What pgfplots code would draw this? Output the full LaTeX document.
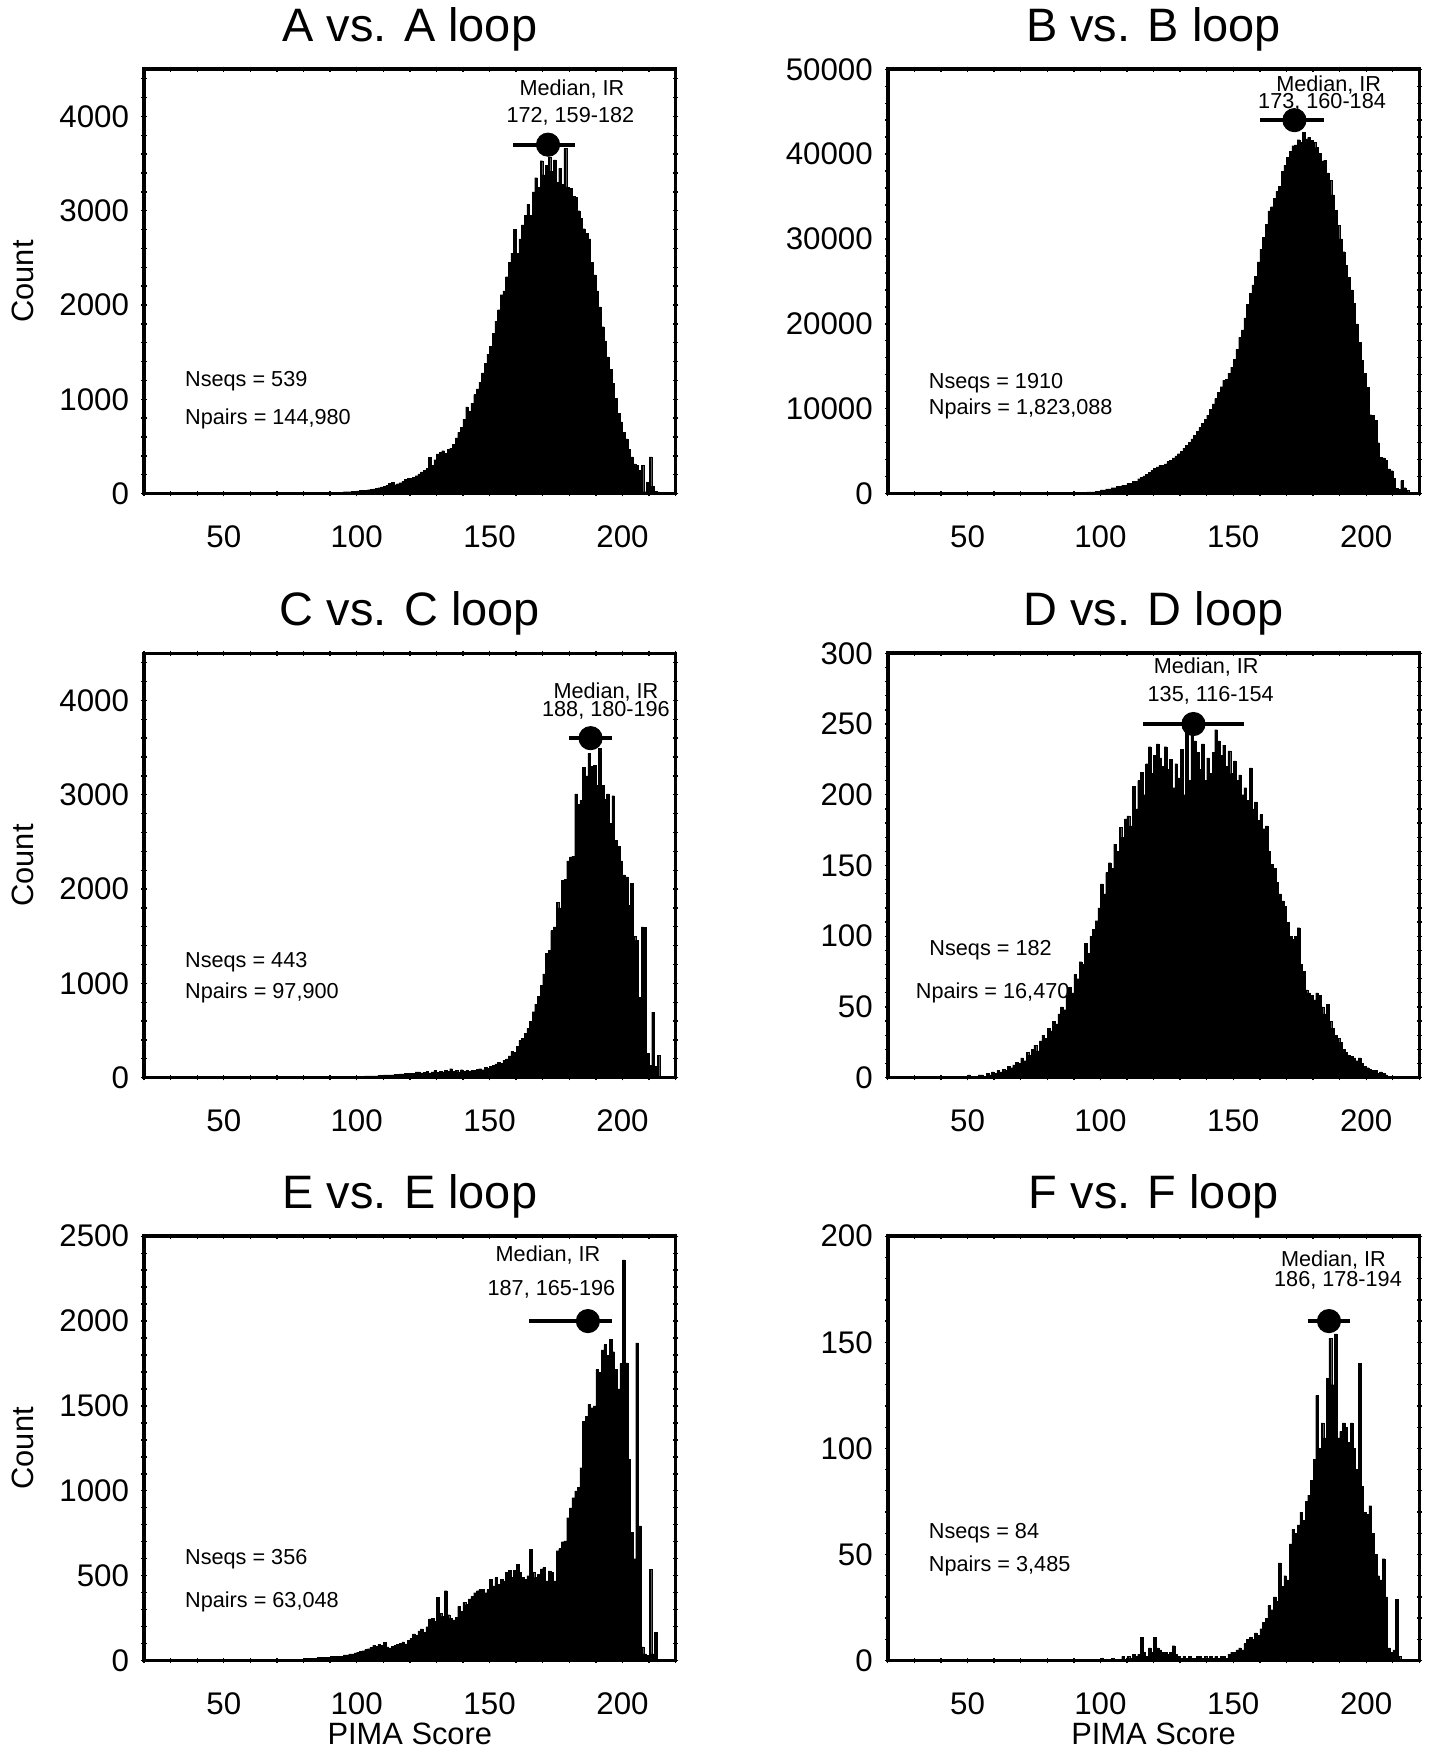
\documentclass[border=0pt]{standalone}
\usepackage{fontspec}
\setmainfont{Liberation Sans}
\usepackage{pgfplots}
\pgfplotsset{compat=1.18}

\newcommand{\annfont}{\fontsize{9.7}{11}\selectfont}

\pgfplotsset{
  panel/.style={
    scale only axis, width=238pt, height=190pt, anchor=south west,
    xmin=20, xmax=220, ymin=0,
    xtick={50,100,150,200}, minor xtick={20,30,...,220},
    scaled y ticks=false,
    axis line style={line width=1.6pt},
    tick style={black, line width=0.6pt},
    major tick length=2.4pt, minor tick length=2.4pt, tick align=center,
    ticklabel style={font=\fontsize{14}{16}\selectfont},
    /pgf/number format/assume math mode=true,
    /pgf/number format/1000 sep={},
    xticklabel style={yshift=-9.5pt},
    yticklabel style={xshift=-2pt},
    title style={at={(axis description cs:0.5,1)}, anchor=base, yshift=6.5pt,
      font=\fontsize{21}{24}\selectfont},
    ylabel style={at={(axis description cs:-0.2285,0.5)}, anchor=center,
      font=\fontsize{13.8}{15}\selectfont},
    xlabel style={at={(axis description cs:0.5,-0.1737)}, anchor=center,
      font=\fontsize{13.8}{15}\selectfont},
  },
  hist/.style={ybar interval, fill=black, draw=black, line width=0.1pt},
  medbar/.style={black, line width=1.8pt, mark=none},
  meddot/.style={black, only marks, mark=*, mark size=5.2pt},
}
\tikzset{ntext/.style={font=\annfont, anchor=west, inner sep=0pt}}

\begin{document}
\begin{tikzpicture}
\useasboundingbox (0,0) rectangle (640pt,-784pt);

% A
\begin{axis}[panel, at={(64.5pt,-221pt)}, title={A vs. A loop}, ylabel={Count},
  ymax=4500, ytick={0,1000,...,4000}, minor ytick={0,200,...,4400}]
\addplot[hist] coordinates {
(60,1) (65,2) (70,3) (75,4) (80,6) (85,9) (90,14) (95,20) (98,25) (100,30) (101,32) (102,35)
(103,38) (104,42) (105,46) (106,50) (107,55) (108,62) (109,70) (110,78) (111,90) (112,110)
(113,120) (114,95) (115,105) (116,115) (117,130) (118,150) (119,160) (120,165) (121,175)
(122,190) (123,210) (124,230) (125,250) (126,265) (127,385) (128,300) (129,360) (130,420)
(131,440) (132,455) (133,430) (134,470) (135,480) (136,520) (137,590) (138,650) (139,700)
(140,790) (141,920) (142,870) (143,960) (144,1050) (145,1110) (146,1180) (147,1280)
(148,1380) (149,1480) (150,1560) (151,1700) (152,1830) (153,1950) (154,2110) (155,2150)
(156,2300) (157,2450) (158,2550) (159,2800) (160,2550) (161,2700) (162,2850) (163,2950)
(164,3070) (165,2950) (166,3200) (167,3350) (168,3250) (169,3530) (170,3380) (171,3480)
(172,3570) (173,3420) (174,3540) (175,3300) (176,3450) (177,3280) (178,3660) (179,3250)
(180,3240) (181,3150) (182,3140) (183,3000) (184,2920) (185,2810) (186,2760) (187,2700)
(188,2450) (189,2320) (190,2150) (191,1980) (192,1770) (193,1620) (194,1450) (195,1320)
(196,1170) (197,1010) (198,850) (199,760) (200,650) (201,580) (202,470) (203,390) (204,315)
(205,300) (206,250) (207,300) (208,20) (209,120) (210,390) (211,80) (212,25) (213,18)
(214,10) (215,0)};
\addplot[medbar] coordinates {(159,3700) (182,3700)};
\addplot[meddot] coordinates {(172,3700)};
\node[font=\annfont] at (axis cs:181,4287) {Median, IR};
\node[font=\annfont] at (axis cs:180.4,4000) {172, 159-182};
\node[ntext] at (axis cs:35.3,1196) {Nseqs = 539};
\node[ntext] at (axis cs:35.3,793) {Npairs = 144,980};
\end{axis}

% B
\begin{axis}[panel, at={(397.5pt,-221pt)}, title={B vs. B loop},
  ymax=50000, ytick={0,10000,...,50000}, minor ytick={0,2000,...,50000}]
\addplot[hist] coordinates {
(60,5) (65,10) (70,20) (75,35) (80,55) (85,80) (90,120) (95,200) (98,300) (100,430)
(102,560) (104,700) (106,850) (108,1000) (110,1200) (112,1450) (114,1750) (115,1920)
(116,2100) (117,2300) (118,2500) (119,2750) (120,2950) (121,3150) (122,3350) (123,3350)
(124,3500) (125,3800) (126,3950) (127,4200) (128,4450) (129,4700) (130,5000) (131,5350)
(132,5700) (133,6050) (134,6450) (135,6900) (136,7350) (137,7800) (138,8250) (139,8750)
(140,9250) (141,9900) (142,10580) (143,11200) (144,11900) (145,12600) (146,13330)
(147,13500) (148,14200) (149,14900) (150,15800) (151,17000) (152,18400) (153,19300)
(154,20700) (155,22300) (156,23600) (157,24600) (158,25600) (159,27300) (160,28800)
(161,30200) (162,31700) (163,33300) (164,33800) (165,34800) (166,35600) (167,36200)
(168,38000) (169,38700) (170,39600) (171,40300) (172,41000) (173,41100) (174,41700)
(175,41400) (176,42600) (177,41800) (178,42000) (179,41600) (180,41400) (181,40800)
(182,40100) (183,39200) (184,39300) (185,37800) (186,36900) (187,35200) (188,33400)
(189,31600) (190,30000) (191,28500) (192,26900) (193,25500) (194,24000) (195,22400)
(196,20000) (197,17800) (198,15700) (199,14200) (200,12500) (201,9300) (202,9200)
(203,8600) (204,6000) (205,4300) (206,4200) (207,3900) (208,2900) (209,2700) (210,1800)
(211,600) (212,500) (213,1530) (214,700) (215,400) (216,0)};
\addplot[medbar] coordinates {(160,44000) (184,44000)};
\addplot[meddot] coordinates {(173,44000)};
\node[font=\annfont] at (axis cs:185.9,48158) {Median, IR};
\node[font=\annfont] at (axis cs:183.4,46053) {173, 160-184};
\node[ntext] at (axis cs:35.3,13026) {Nseqs = 1910};
\node[ntext] at (axis cs:35.3,10000) {Npairs = 1,823,088};
\end{axis}

% C
\begin{axis}[panel, at={(64.5pt,-482.5pt)}, title={C vs. C loop}, ylabel={Count},
  ymax=4500, ytick={0,1000,...,4000}, minor ytick={0,200,...,4400}]
\addplot[hist] coordinates {
(60,2) (70,5) (80,8) (90,10) (95,12) (100,15) (103,18) (106,20) (108,25) (110,28) (112,30)
(114,35) (116,40) (118,45) (120,45) (122,60) (124,50) (125,55) (126,65) (127,50) (128,60)
(129,75) (130,55) (131,70) (132,60) (133,80) (134,65) (135,95) (136,70) (137,80) (138,60)
(139,85) (140,70) (141,75) (142,65) (143,80) (144,75) (145,90) (146,95) (147,85) (148,110)
(149,100) (150,120) (151,130) (152,145) (153,160) (154,150) (155,185) (156,200) (157,230)
(158,280) (159,270) (160,330) (161,396) (162,420) (163,470) (164,520) (165,600) (166,700)
(167,780) (168,860) (169,980) (170,1100) (171,1320) (172,1350) (173,1560) (174,1600)
(175,1860) (176,1800) (177,2090) (178,2100) (179,2300) (180,2340) (181,2350) (182,3010)
(183,2900) (184,2940) (185,3290) (186,3200) (187,3440) (188,3300) (189,3310) (190,3100)
(191,3490) (192,3100) (193,2950) (194,3010) (195,2700) (196,2990) (197,2520) (198,2450)
(199,2300) (200,2150) (201,2130) (202,1830) (203,2060) (204,1500) (205,1456) (206,850)
(207,1600) (208,1597) (209,255) (210,130) (211,696) (212,120) (213,237) (214,0)};
\addplot[medbar] coordinates {(180,3600) (196,3600)};
\addplot[meddot] coordinates {(188,3600)};
\node[font=\annfont] at (axis cs:193.8,4090) {Median, IR};
\node[font=\annfont] at (axis cs:193.8,3895) {188, 180-196};
\node[ntext] at (axis cs:35.3,1220) {Nseqs = 443};
\node[ntext] at (axis cs:35.3,900) {Npairs = 97,900};
\end{axis}

% D
\begin{axis}[panel, at={(397.5pt,-482.5pt)}, title={D vs. D loop},
  ymax=300, ytick={0,50,...,300}, minor ytick={0,10,...,300}]
\addplot[hist] coordinates {
(48,0) (50,2) (51,0) (52,1) (54,2) (56,1) (57,3) (58,2) (59,4) (60,3) (61,5) (62,4) (63,6)
(64,5) (65,8) (66,7) (67,9) (68,11) (69,10) (70,14) (71,12) (72,18) (73,16) (74,20) (75,23)
(76,19) (77,26) (78,30) (79,28) (80,35) (81,33) (82,40) (83,38) (84,45) (85,50) (86,48)
(87,58) (88,64) (89,60) (90,73) (91,70) (92,82) (93,80) (94,95) (95,88) (96,100) (97,105)
(98,111) (99,120) (100,137) (101,130) (102,145) (103,152) (104,148) (105,165) (106,160)
(107,177) (108,170) (109,183) (110,185) (111,178) (112,206) (113,190) (114,210) (115,216)
(116,200) (117,222) (118,234) (119,215) (120,228) (121,236) (122,226) (123,220) (124,234)
(125,218) (126,225) (127,205) (128,222) (129,212) (130,232) (131,200) (132,244) (133,210)
(134,245) (135,238) (136,230) (137,218) (138,236) (139,210) (140,226) (141,215) (142,230)
(143,246) (144,238) (145,228) (146,235) (147,220) (148,231) (149,215) (150,224) (151,210)
(152,214) (153,200) (154,205) (155,196) (156,219) (157,190) (158,195) (159,182) (160,186)
(161,176) (162,178) (163,160) (164,151) (165,148) (166,138) (167,130) (168,125) (169,121)
(170,110) (171,100) (172,98) (173,100) (174,106) (175,80) (176,75) (177,62) (178,60)
(179,58) (180,55) (181,60) (182,58) (183,50) (184,45) (185,52) (186,40) (187,35) (188,30)
(189,28) (190,25) (191,20) (192,18) (193,16) (194,15) (195,14) (196,12) (197,14) (198,10)
(199,8) (200,7) (201,6) (202,5) (203,5) (204,3) (205,4) (206,3) (207,2) (208,1) (209,1)
(210,0)};
\addplot[medbar] coordinates {(116,250) (154,250)};
\addplot[meddot] coordinates {(135,250)};
\node[font=\annfont] at (axis cs:139.8,290) {Median, IR};
\node[font=\annfont] at (axis cs:141.5,270) {135, 116-154};
\node[ntext] at (axis cs:35.5,90) {Nseqs = 182};
\node[ntext] at (axis cs:30.4,60) {Npairs = 16,470};
\end{axis}

% E
\begin{axis}[panel, at={(64.5pt,-743.5pt)}, title={E vs. E loop}, ylabel={Count},
  xlabel={PIMA Score},
  ymax=2500, ytick={0,500,...,2500}, minor ytick={0,100,...,2500}]
\addplot[hist] coordinates {
(60,1) (65,3) (70,5) (75,8) (80,12) (85,18) (90,25) (95,33) (97,39) (98,40) (99,45) (100,50)
(101,55) (102,58) (103,65) (104,70) (105,78) (106,90) (107,85) (108,95) (109,90) (110,108)
(111,80) (112,75) (113,85) (114,90) (115,95) (116,100) (117,110) (118,98) (119,120)
(120,130) (121,157) (122,150) (123,175) (124,186) (125,165) (126,200) (127,245) (128,250)
(129,230) (130,372) (131,280) (132,260) (133,412) (134,270) (135,250) (136,240) (137,255)
(138,320) (139,290) (140,343) (141,330) (142,363) (143,380) (144,400) (145,412) (146,420)
(147,421) (148,400) (149,420) (150,480) (151,440) (152,490) (153,450) (154,480) (155,470)
(156,520) (157,530) (158,490) (159,530) (160,568) (161,520) (162,490) (163,480) (164,500)
(165,656) (166,520) (167,490) (168,510) (169,540) (170,548) (171,470) (172,529) (173,520)
(174,470) (175,647) (176,660) (177,700) (178,705) (179,842) (180,900) (181,960) (182,1000)
(183,1019) (184,1136) (185,1411) (186,1440) (187,1509) (188,1490) (189,1500) (190,1715)
(191,1700) (192,1830) (193,1862) (194,1800) (195,1891) (196,1820) (197,1715) (198,1600)
(199,1750) (200,2361) (201,1754) (202,1185) (203,754) (204,600) (205,1871) (206,793)
(207,80) (208,40) (209,30) (210,539) (211,40) (212,167) (213,0)};
\addplot[medbar] coordinates {(165,2000) (196,2000)};
\addplot[meddot] coordinates {(187,2000)};
\node[font=\annfont] at (axis cs:172,2391) {Median, IR};
\node[font=\annfont] at (axis cs:173.3,2185) {187, 165-196};
\node[ntext] at (axis cs:35.3,597) {Nseqs = 356};
\node[ntext] at (axis cs:35.3,348) {Npairs = 63,048};
\end{axis}

% F
\begin{axis}[panel, at={(397.5pt,-743.5pt)}, title={F vs. F loop},
  xlabel={PIMA Score},
  ymax=200, ytick={0,50,...,200}, minor ytick={0,10,...,200}]
\addplot[hist] coordinates {
(98,0) (100,1) (101,0) (104,1) (105,0) (108,2) (109,0) (110,2) (111,1) (112,3) (113,2)
(114,3) (115,11) (116,4) (117,2) (118,6) (119,4) (120,11) (121,6) (122,5) (123,4) (124,4)
(125,3) (126,4) (127,7) (128,3) (129,2) (130,1) (131,2) (132,1) (133,2) (134,1) (135,1)
(136,2) (137,2) (138,1) (139,2) (140,1) (141,2) (142,1) (143,2) (144,1) (145,2) (146,2)
(147,1) (148,3) (149,4) (150,4) (151,5) (152,6) (153,5) (154,8) (155,10) (156,11) (157,10)
(158,13) (159,12) (160,15) (161,18) (162,20) (163,26) (164,24) (165,30) (166,28) (167,46)
(168,35) (169,40) (170,38) (171,55) (172,62) (173,60) (174,64) (175,70) (176,66) (177,75)
(178,78) (179,85) (180,95) (181,125) (182,100) (183,112) (184,105) (185,133) (186,152)
(187,130) (188,154) (189,105) (190,108) (191,112) (192,110) (193,103) (194,112) (195,100)
(196,90) (197,140) (198,82) (199,70) (200,69) (201,73) (202,60) (203,50) (204,40) (205,38)
(206,48) (207,30) (208,6) (209,4) (210,5) (211,29) (212,2) (213,0)};
\addplot[medbar] coordinates {(178,160) (194,160)};
\addplot[meddot] coordinates {(186,160)};
\node[font=\annfont] at (axis cs:187.7,189) {Median, IR};
\node[font=\annfont] at (axis cs:189.4,179) {186, 178-194};
\node[ntext] at (axis cs:35.3,60) {Nseqs = 84};
\node[ntext] at (axis cs:35.3,44.6) {Npairs = 3,485};
\end{axis}
\end{tikzpicture}
\end{document}
